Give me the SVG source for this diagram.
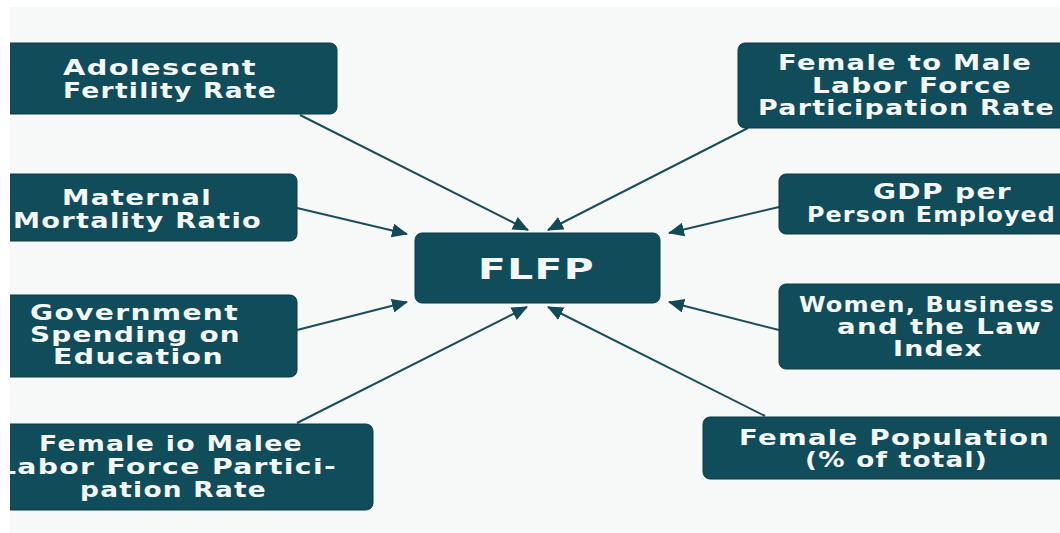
<svg xmlns="http://www.w3.org/2000/svg" width="1060" height="533" viewBox="0 0 1060 533">
  <style>
    .box { fill: #114c5b; stroke: #0b3a47; stroke-width: 1; }
    .lbl { fill: #f4f7f7; font-family: "DejaVu Sans", "Liberation Sans", sans-serif; font-weight: bold; font-size: 21px; text-anchor: middle; letter-spacing: 1px; }
    .big { font-size: 29px; }
    .conn { stroke: #1b4d5b; stroke-width: 2; fill: none; marker-end: url(#ah); }
  </style>
  <defs>
    <marker id="ah" markerUnits="userSpaceOnUse" markerWidth="16" markerHeight="14" refX="15" refY="7" orient="auto">
      <path d="M0,0 L16,7 L0,14 z" fill="#134a58"/>
    </marker>
    <clipPath id="frame">
      <rect x="10" y="7" width="1050" height="526"/>
    </clipPath>
  </defs>
  <rect x="0" y="0" width="1060" height="533" fill="#ffffff"/>
  <g clip-path="url(#frame)">
    <rect x="10" y="7" width="1050" height="526" fill="#f7f8f8"/>

    <g id="connectors">
      <line class="conn" x1="300" y1="115" x2="528" y2="230"/>
      <line class="conn" x1="748" y1="128" x2="548" y2="230"/>
      <line class="conn" x1="297" y1="208" x2="407" y2="234"/>
      <line class="conn" x1="779" y1="207" x2="669" y2="233"/>
      <line class="conn" x1="297" y1="330" x2="407" y2="302"/>
      <line class="conn" x1="779" y1="330" x2="669" y2="302"/>
      <line class="conn" x1="297" y1="423" x2="527" y2="307"/>
      <line class="conn" x1="765" y1="416" x2="548" y2="307"/>
    </g>

    <g id="flfp">
      <rect class="box" x="415" y="233" width="245" height="70" rx="7"/>
      <text class="lbl big" x="536.5" y="279" textLength="117" lengthAdjust="spacingAndGlyphs">FLFP</text>
    </g>

    <g id="adolescent">
      <rect class="box" x="2" y="43" width="335" height="71" rx="7"/>
      <text class="lbl" x="160" y="75" textLength="194" lengthAdjust="spacingAndGlyphs">Adolescent</text>
      <text class="lbl" x="170" y="98" textLength="214" lengthAdjust="spacingAndGlyphs">Fertility Rate</text>
    </g>

    <g id="maternal">
      <rect class="box" x="2" y="174" width="295" height="67" rx="7"/>
      <text class="lbl" x="137" y="205" textLength="150" lengthAdjust="spacingAndGlyphs">Maternal</text>
      <text class="lbl" x="137.5" y="228" textLength="249" lengthAdjust="spacingAndGlyphs">Mortality Ratio</text>
    </g>

    <g id="government">
      <rect class="box" x="2" y="295" width="295" height="82" rx="7"/>
      <text class="lbl" x="134.5" y="320" textLength="209" lengthAdjust="spacingAndGlyphs">Government</text>
      <text class="lbl" x="135.5" y="342" textLength="211" lengthAdjust="spacingAndGlyphs">Spending on</text>
      <text class="lbl" x="138.5" y="364" textLength="171" lengthAdjust="spacingAndGlyphs">Education</text>
    </g>

    <g id="female-io-malee">
      <rect class="box" x="2" y="424" width="371" height="86" rx="7"/>
      <text class="lbl" x="171" y="451" textLength="264" lengthAdjust="spacingAndGlyphs">Female io Malee</text>
      <text class="lbl" x="167.5" y="474" textLength="339" lengthAdjust="spacingAndGlyphs">Labor Force Partici-</text>
      <text class="lbl" x="173.5" y="497" textLength="187" lengthAdjust="spacingAndGlyphs">pation Rate</text>
    </g>

    <g id="female-to-male">
      <rect class="box" x="738" y="43" width="340" height="85" rx="7"/>
      <text class="lbl" x="905" y="70" textLength="254" lengthAdjust="spacingAndGlyphs">Female to Male</text>
      <text class="lbl" x="912" y="93" textLength="200" lengthAdjust="spacingAndGlyphs">Labor Force</text>
      <text class="lbl" x="906.5" y="115" textLength="297" lengthAdjust="spacingAndGlyphs">Participation Rate</text>
    </g>

    <g id="gdp">
      <rect class="box" x="779" y="174" width="300" height="60" rx="7"/>
      <text class="lbl" x="942.5" y="199" textLength="139" lengthAdjust="spacingAndGlyphs">GDP per</text>
      <text class="lbl" x="931.5" y="222" textLength="249" lengthAdjust="spacingAndGlyphs">Person Employed</text>
    </g>

    <g id="women-business">
      <rect class="box" x="779" y="284" width="300" height="85" rx="7"/>
      <text class="lbl" x="927" y="312" textLength="256" lengthAdjust="spacingAndGlyphs">Women, Business</text>
      <text class="lbl" x="939.5" y="334" textLength="205" lengthAdjust="spacingAndGlyphs">and the Law</text>
      <text class="lbl" x="938" y="356" textLength="90" lengthAdjust="spacingAndGlyphs">Index</text>
    </g>

    <g id="female-population">
      <rect class="box" x="703" y="417" width="375" height="62" rx="7"/>
      <text class="lbl" x="894.5" y="445" textLength="311" lengthAdjust="spacingAndGlyphs">Female Population</text>
      <text class="lbl" x="896.5" y="467" textLength="183" lengthAdjust="spacingAndGlyphs">(% of total)</text>
    </g>
  </g>
</svg>
